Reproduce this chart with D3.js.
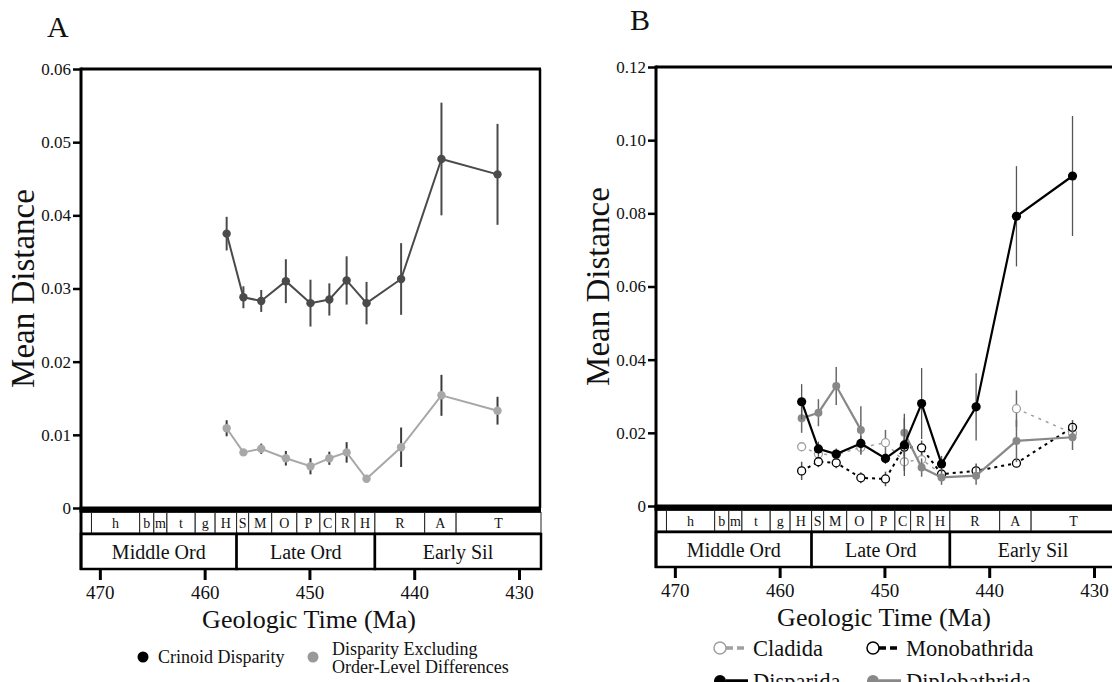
<!DOCTYPE html>
<html><head><meta charset="utf-8">
<script src="https://cdn.jsdelivr.net/npm/d3@7"></script>
<style>html,body{margin:0;padding:0;background:#fff;overflow:hidden}</style>
</head><body>
<svg id="c" width="1112" height="682"></svg>
<script>
// ---------- data ----------
const timeMa = [457.9, 456.3, 454.6, 452.25, 449.9, 448.1, 446.45, 444.55, 441.25, 437.4, 432.05];

// Panel A
const crinoidDisparity    = [0.0375, 0.0288, 0.0283, 0.0310, 0.0280, 0.0285, 0.0311, 0.0280, 0.0313, 0.0477, 0.0456];
const crinoidDisparityErr = [0.0023, 0.0015, 0.0015, 0.0030, 0.0032, 0.0022, 0.0033, 0.0029, 0.0049, 0.0077, 0.0069];
const excludingOrder      = [0.0109, 0.0076, 0.0081, 0.0068, 0.0057, 0.0068, 0.0076, 0.0040, 0.0083, 0.0154, 0.0133];
const excludingOrderErr   = [0.0011, 0.0004, 0.0007, 0.0010, 0.0011, 0.0009, 0.0014, 0.0003, 0.0027, 0.0028, 0.0019];

// Panel B
const cladida          = [0.0162, 0.0142, 0.0140, 0.0160, 0.0173, 0.0121, 0.0127, 0.0088, null, 0.0266, 0.0199];
const cladidaErr       = [0.0010, 0.0010, 0.0010, 0.0020, 0.0035, 0.0025, 0.0020, 0.0010, null, 0.0050, 0.0020];
const monobathrida     = [0.0096, 0.0121, 0.0118, 0.0077, 0.0074, 0.0161, 0.0159, 0.0087, 0.0096, 0.0117, 0.0215];
const monobathridaErr  = [0.0025, 0.0015, 0.0015, 0.0015, 0.0020, 0.0025, 0.0020, 0.0010, 0.0020, 0.0010, 0.0020];
const disparida        = [0.0285, 0.0156, 0.0142, 0.0171, 0.0130, 0.0167, 0.0280, 0.0115, 0.0271, 0.0792, 0.0902];
const disparidaErr     = [0.0048, 0.0020, 0.0015, 0.0020, 0.0015, 0.0085, 0.0097, 0.0022, 0.0092, 0.0137, 0.0164];
const diplobathrida    = [0.0240, 0.0255, 0.0328, 0.0208, null, 0.0200, 0.0105, 0.0078, 0.0083, 0.0178, 0.0188];
const diplobathridaErr = [0.0040, 0.0037, 0.0052, 0.0065, null, 0.0040, 0.0025, 0.0020, 0.0025, 0.0058, 0.0035];

// Time scale
const stageBounds = [471.8, 470.8, 466.2, 464.85, 463.6, 460.9, 459.0, 456.95, 455.8, 453.6, 451.2, 449.0, 447.5, 445.65, 443.75, 439.0, 436.0, 427.9];
const stageLabels = ["", "h", "b", "m", "t", "g", "H", "S", "M", "O", "P", "C", "R", "H", "R", "A", "T"];
const epochBounds = [471.8, 456.95, 443.75, 427.9];
const epochLabels = ["Middle Ord", "Late Ord", "Early Sil"];
const xTicks  = [470, 460, 450, 440, 430];
const yTicksA = [0, 0.01, 0.02, 0.03, 0.04, 0.05, 0.06];
const yTicksALabels = ["0", "0.01", "0.02", "0.03", "0.04", "0.05", "0.06"];
const yTicksB = [0, 0.02, 0.04, 0.06, 0.08, 0.10, 0.12];
const yTicksBLabels = ["0", "0.02", "0.04", "0.06", "0.08", "0.10", "0.12"];

// ---------- drawing ----------
const FONT = "'Liberation Serif','Times New Roman',serif";
const svg = d3.select("#c");

function panel(cfg) {
  const g = svg.append("g");
  const x = d3.scaleLinear().domain([471.8, 427.9]).range([cfg.left, cfg.left + 460]);
  const y = d3.scaleLinear().domain([0, cfg.yMax]).range([cfg.y0, cfg.yTop]);
  const x0 = x.range()[0], x1 = x.range()[1];
  const y0 = cfg.y0;

  // frame: top, left, right
  g.append("line").attr("x1", x0).attr("x2", x1).attr("y1", cfg.yTop).attr("y2", cfg.yTop)
    .attr("stroke", "#000").attr("stroke-width", 3);
  g.append("line").attr("x1", x0).attr("x2", x0).attr("y1", cfg.yTop - 1.5).attr("y2", y0)
    .attr("stroke", "#000").attr("stroke-width", 3);
  if (cfg.rightBorder) {
    g.append("line").attr("x1", x1 - 1).attr("x2", x1 - 1).attr("y1", cfg.yTop).attr("y2", y0)
      .attr("stroke", "#000").attr("stroke-width", 2.5);
  }

  // y axis ticks + labels
  const yAxis = d3.axisLeft(y).tickValues(cfg.yTicks).tickFormat((d, i) => cfg.yLabels[i]).tickSize(7).tickPadding(2);
  const ya = g.append("g").attr("transform", `translate(${x0 - 1},0)`).call(yAxis);
  ya.select(".domain").remove();
  ya.selectAll(".tick line").attr("stroke", "#000").attr("stroke-width", 2.5);
  ya.selectAll(".tick text").attr("font-family", FONT).attr("font-size", 17).attr("fill", "#111");

  // time scale
  const ts = g.append("g");
  ts.append("rect").attr("x", x0 - 1.5).attr("y", y0 - 1.5).attr("width", x1 - x0 + 1.5).attr("height", 6).attr("fill", "#000");
  const r1t = y0 + 4.5, r1b = y0 + 25, r2t = y0 + 26, r2b = y0 + 61;
  const stages = stageLabels.map((l, i) => ({ l, a: stageBounds[i], b: stageBounds[i + 1] }));
  ts.selectAll("rect.st").data(stages).join("rect").attr("class", "st")
    .attr("x", d => x(d.a)).attr("y", r1t).attr("width", d => x(d.b) - x(d.a)).attr("height", r1b - r1t)
    .attr("fill", "#fff").attr("stroke", "#222").attr("stroke-width", 1);
  ts.selectAll("text.st").data(stages).join("text").attr("class", "st")
    .attr("x", d => (x(d.a) + x(d.b)) / 2).attr("y", r1b - 5).attr("text-anchor", "middle")
    .attr("font-family", FONT).attr("font-size", 14).attr("fill", "#111").text(d => d.l);
  const epochs = epochLabels.map((l, i) => ({ l, a: epochBounds[i], b: epochBounds[i + 1] }));
  ts.selectAll("rect.ep").data(epochs).join("rect").attr("class", "ep")
    .attr("x", d => x(d.a)).attr("y", r2t).attr("width", d => x(d.b) - x(d.a)).attr("height", r2b - r2t)
    .attr("fill", "#fff").attr("stroke", "#000").attr("stroke-width", 2.5);
  ts.selectAll("text.ep").data(epochs).join("text").attr("class", "ep")
    .attr("x", d => (x(d.a) + x(d.b)) / 2).attr("y", r2b - 10).attr("text-anchor", "middle")
    .attr("font-family", FONT).attr("font-size", 20).attr("fill", "#111").text(d => d.l);
  ts.append("line").attr("x1", x0).attr("x2", x0).attr("y1", y0).attr("y2", r2b + 1)
    .attr("stroke", "#000").attr("stroke-width", 3);

  // x axis
  const xAxis = d3.axisBottom(x).tickValues(xTicks).tickFormat(d3.format("d")).tickSize(10).tickPadding(6);
  const xa = g.append("g").attr("transform", `translate(0,${r2b + 1})`).call(xAxis);
  xa.select(".domain").remove();
  xa.selectAll(".tick line").attr("stroke", "#000").attr("stroke-width", 3);
  xa.selectAll(".tick text").attr("font-family", FONT).attr("font-size", 19).attr("fill", "#111");

  // titles
  g.append("text").attr("x", (x0 + x1) / 2 - 2).attr("y", y0 + 120).attr("text-anchor", "middle")
    .attr("font-family", FONT).attr("font-size", 26).attr("fill", "#111").text("Geologic Time (Ma)");
  g.append("text").attr("transform", `translate(${x0 - 47},${(cfg.yTop + y0) / 2}) rotate(-90)`)
    .attr("text-anchor", "middle").attr("font-family", FONT).attr("font-size", 33).attr("fill", "#111").text("Mean Distance");
  g.append("text").attr("x", cfg.letterX).attr("y", cfg.letterY)
    .attr("font-family", FONT).attr("font-size", 30).attr("fill", "#111").text(cfg.letter);

  return { g, x, y };
}

function series(p, vals, errs, st) {
  const pts = timeMa.map((t, i) => ({ t, v: vals[i], e: errs[i] })).filter(d => d.v !== null);
  const full = timeMa.map((t, i) => ({ t, v: vals[i] }));
  const eg = p.g.append("g");
  eg.selectAll("line").data(pts).join("line")
    .attr("x1", d => p.x(d.t)).attr("x2", d => p.x(d.t))
    .attr("y1", d => p.y(d.v + d.e)).attr("y2", d => p.y(d.v - d.e))
    .attr("stroke", st.errColor).attr("stroke-width", st.errWidth);
  const line = d3.line().defined(d => d.v !== null).x(d => p.x(d.t)).y(d => p.y(d.v));
  p.g.append("path").attr("d", line(full)).attr("fill", "none")
    .attr("stroke", st.color).attr("stroke-width", st.width)
    .attr("stroke-dasharray", st.dash || null);
  p.g.append("g").selectAll("circle").data(pts).join("circle")
    .attr("cx", d => p.x(d.t)).attr("cy", d => p.y(d.v)).attr("r", st.r)
    .attr("fill", st.open ? "#fff" : st.color)
    .attr("stroke", st.open ? st.color : "none").attr("stroke-width", st.open ? 1.3 : 0);
}

// Panel A
const A = panel({ left: 81, y0: 508, yTop: 69, yMax: 0.06, yTicks: yTicksA, yLabels: yTicksALabels,
  rightBorder: true, letter: "A", letterX: 47, letterY: 37 });
series(A, excludingOrder, excludingOrderErr, { color: "#a8a8a8", width: 2, r: 4.2, errColor: "#3c3c3c", errWidth: 2 });
series(A, crinoidDisparity, crinoidDisparityErr, { color: "#4a4a4a", width: 2, r: 4.2, errColor: "#4a4a4a", errWidth: 2 });

// Panel B
const B = panel({ left: 656, y0: 506, yTop: 67, yMax: 0.12, yTicks: yTicksB, yLabels: yTicksBLabels,
  rightBorder: false, letter: "B", letterX: 630, letterY: 30 });
series(B, cladida, cladidaErr, { color: "#a0a0a0", width: 1.5, r: 4, open: true, dash: "3,5", errColor: "#6a6a6a", errWidth: 1.5 });
series(B, monobathrida, monobathridaErr, { color: "#000", width: 2, r: 4, open: true, dash: "3,4", errColor: "#555", errWidth: 1.5 });
series(B, diplobathrida, diplobathridaErr, { color: "#888", width: 2.2, r: 4, errColor: "#6a6a6a", errWidth: 1.5 });
series(B, disparida, disparidaErr, { color: "#000", width: 2.2, r: 4.6, errColor: "#555", errWidth: 1.3 });

// ---------- legends ----------
const legA = svg.append("g");
legA.append("circle").attr("cx", 143).attr("cy", 657).attr("r", 5.5).attr("fill", "#000");
legA.append("text").attr("x", 158).attr("y", 663).attr("font-family", FONT).attr("font-size", 18).attr("fill", "#111").text("Crinoid Disparity");
legA.append("circle").attr("cx", 313).attr("cy", 657).attr("r", 5.5).attr("fill", "#999");
legA.append("text").attr("x", 332).attr("y", 655).attr("font-family", FONT).attr("font-size", 18).attr("fill", "#111").text("Disparity Excluding");
legA.append("text").attr("x", 332).attr("y", 673).attr("font-family", FONT).attr("font-size", 18).attr("fill", "#111").text("Order-Level Differences");

const legB = svg.append("g");
const legItems = [
  { name: "Cladida", col: 0, row: 0, color: "#a0a0a0", open: true, dash: true },
  { name: "Monobathrida", col: 1, row: 0, color: "#000", open: true, dash: true },
  { name: "Disparida", col: 0, row: 1, color: "#000", open: false, dash: false },
  { name: "Diplobathrida", col: 1, row: 1, color: "#888", open: false, dash: false }
];
legItems.forEach(it => {
  const cx = it.col ? 873 : 720, cy = it.row ? 681 : 648;
  legB.append("line").attr("x1", cx + 6).attr("x2", cx + 28).attr("y1", cy).attr("y2", cy)
    .attr("stroke", it.color).attr("stroke-width", 3.5).attr("stroke-dasharray", it.dash ? "7,4" : null);
  legB.append("circle").attr("cx", cx).attr("cy", cy).attr("r", 6)
    .attr("fill", it.open ? "#fff" : it.color).attr("stroke", it.color).attr("stroke-width", it.open ? 1.5 : 0);
  legB.append("text").attr("x", cx + 33).attr("y", cy + 8).attr("font-family", FONT).attr("font-size", 22.5)
    .attr("fill", "#111").text(it.name);
});
</script>
</body></html>
